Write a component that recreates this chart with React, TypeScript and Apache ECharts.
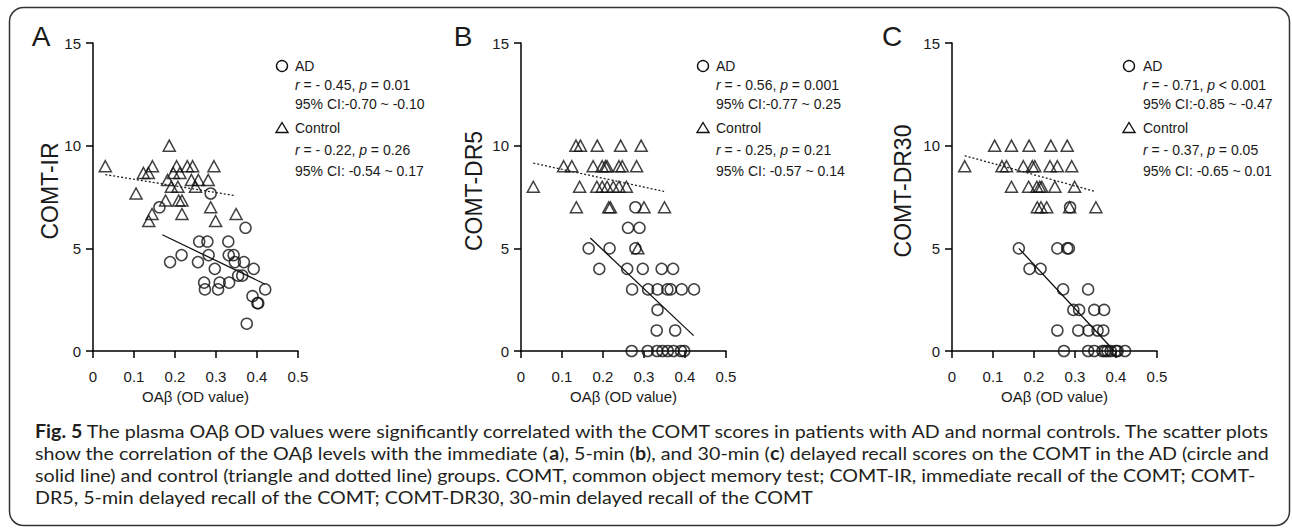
import React, { useEffect, useRef } from "react";
import * as echarts from "echarts";

// ---- Panel labels / axis titles ----
const panelLetters = ["A", "B", "C"];
const yTitles = ["COMT-IR", "COMT-DR5", "COMT-DR30"];
const xTitle = "OAβ (OD value)";

// ---- Panel A: COMT-IR ----
const adA: number[][] = [
  [0.162, 7], [0.287, 7.67], [0.372, 6], [0.259, 5.33], [0.279, 5.33], [0.33, 5.33],
  [0.331, 4.67], [0.343, 4.67], [0.282, 4.67], [0.216, 4.67], [0.188, 4.33], [0.256, 4.33],
  [0.346, 4.33], [0.368, 4.33], [0.297, 4], [0.392, 4], [0.354, 3.67], [0.364, 3.67],
  [0.271, 3.33], [0.309, 3.33], [0.332, 3.33], [0.273, 3], [0.305, 3], [0.42, 3],
  [0.389, 2.67], [0.401, 2.33], [0.403, 2.33], [0.375, 1.33],
];
const ctrlA: number[][] = [
  [0.03, 9], [0.105, 7.67], [0.123, 8.67], [0.135, 8.67], [0.145, 9], [0.144, 6.67],
  [0.136, 6.33], [0.177, 7.33], [0.186, 10], [0.182, 8.33], [0.191, 8], [0.204, 9],
  [0.196, 8.67], [0.212, 8.67], [0.207, 8], [0.209, 7.33], [0.217, 7.33], [0.217, 6.67],
  [0.23, 9], [0.243, 9], [0.24, 8.33], [0.25, 8], [0.257, 8.33], [0.281, 8.33],
  [0.295, 9], [0.287, 7], [0.299, 6.33], [0.349, 6.67],
];
const adLineA = [[0.169, 5.66], [0.42, 3.25]];
const ctrlLineA = [[0.03, 8.59], [0.348, 7.56]];

// ---- Panel B: COMT-DR5 ----
const adB: number[][] = [
  [0.279, 7], [0.261, 6], [0.289, 6], [0.165, 5], [0.216, 5], [0.279, 5],
  [0.191, 4], [0.259, 4], [0.297, 4], [0.343, 4], [0.371, 4],
  [0.271, 3], [0.31, 3], [0.333, 3], [0.357, 3], [0.365, 3], [0.392, 3], [0.422, 3],
  [0.333, 2], [0.331, 1], [0.376, 1],
  [0.27, 0], [0.309, 0], [0.332, 0], [0.345, 0], [0.358, 0], [0.372, 0], [0.39, 0], [0.398, 0],
];
const ctrlB: number[][] = [
  [0.134, 10], [0.145, 10], [0.186, 10], [0.243, 10], [0.293, 10],
  [0.104, 9], [0.124, 9], [0.176, 9], [0.198, 9], [0.206, 9], [0.21, 9], [0.239, 9], [0.247, 9], [0.282, 9],
  [0.03, 8], [0.143, 8], [0.185, 8], [0.198, 8], [0.21, 8], [0.225, 8], [0.239, 8], [0.257, 8],
  [0.135, 7], [0.214, 7], [0.218, 7], [0.3, 7], [0.35, 7],
  [0.285, 5],
];
const adLineB = [[0.169, 5.5], [0.421, 0.75]];
const ctrlLineB = [[0.03, 9.15], [0.349, 7.77]];

// ---- Panel C: COMT-DR30 ----
const adC: number[][] = [
  [0.288, 7], [0.163, 5], [0.257, 5], [0.281, 5], [0.285, 5], [0.189, 4], [0.216, 4],
  [0.271, 3], [0.332, 3], [0.296, 2], [0.31, 2], [0.347, 2], [0.371, 2],
  [0.257, 1], [0.308, 1], [0.333, 1], [0.355, 1], [0.369, 1],
  [0.273, 0], [0.332, 0], [0.347, 0], [0.367, 0], [0.373, 0], [0.379, 0], [0.387, 0], [0.4, 0], [0.404, 0], [0.422, 0],
];
const ctrlC: number[][] = [
  [0.104, 10], [0.145, 10], [0.188, 10], [0.241, 10], [0.281, 10],
  [0.031, 9], [0.122, 9], [0.133, 9], [0.174, 9], [0.196, 9], [0.202, 9], [0.239, 9], [0.257, 9], [0.292, 9],
  [0.145, 8], [0.187, 8], [0.207, 8], [0.214, 8], [0.219, 8], [0.251, 8], [0.299, 8],
  [0.208, 7], [0.217, 7], [0.231, 7], [0.287, 7], [0.351, 7],
];
const adLineC = [[0.163, 5.0], [0.396, 0]];
const ctrlLineC = [[0.031, 9.51], [0.349, 7.77]];

// ---- Legend statistics ----
const adStats = [
  ["{i|r} = - 0.45, {i|p} = 0.01", "95% CI:-0.70 ~ -0.10"],
  ["{i|r} = - 0.56, {i|p} = 0.001", "95% CI:-0.77 ~ 0.25"],
  ["{i|r} = - 0.71, {i|p} < 0.001", "95% CI:-0.85 ~ -0.47"],
];
const ctrlStats = [
  ["{i|r} = - 0.22, {i|p} = 0.26", "95% CI: -0.54 ~ 0.17"],
  ["{i|r} = - 0.25, {i|p} = 0.21", "95% CI: -0.57 ~ 0.14"],
  ["{i|r} = - 0.37, {i|p} = 0.05", "95% CI: -0.65 ~ 0.01"],
];

// ---- Caption ----
const captionLines = [
  "{b|Fig. 5} The plasma OAβ OD values were significantly correlated with the COMT scores in patients with AD and normal controls. The scatter plots",
  "show the correlation of the OAβ levels with the immediate ({b|a}), 5-min ({b|b}), and 30-min ({b|c}) delayed recall scores on the COMT in the AD (circle and",
  "solid line) and control (triangle and dotted line) groups. COMT, common object memory test; COMT-IR, immediate recall of the COMT; COMT-",
  "DR5, 5-min delayed recall of the COMT; COMT-DR30, 30-min delayed recall of the COMT",
];

const panels = [
  { ad: adA, ctrl: ctrlA, adLine: adLineA, ctrlLine: ctrlLineA },
  { ad: adB, ctrl: ctrlB, adLine: adLineB, ctrlLine: ctrlLineB },
  { ad: adC, ctrl: ctrlC, adLine: adLineC, ctrlLine: ctrlLineC },
];

// layout (pixels)
const gridLefts = [93, 521, 952];
const gridWidth = 205;
const gridTop = 43;
const gridHeight = 308;
const letterX = [41, 463, 892];
const yTitleX = [50, 474, 903];
const legendSymX = [282, 703, 1129];
const legendTextX = [295, 716, 1143];

const FONT = "'Liberation Sans', Arial, sans-serif";
const CAP_FONT = "Lato, 'Noto Sans', sans-serif";
const CAP_SIZE = 18;
const CAP_SCALE_X = 1.093;
const INK = "#1a1a1a";

export default function App() {
  const ref = useRef<HTMLDivElement>(null);

  useEffect(() => {
    if (!ref.current) return;
    const chart = echarts.init(ref.current, undefined, { renderer: "svg" });

    const grid: any[] = [];
    const xAxis: any[] = [];
    const yAxis: any[] = [];
    const series: any[] = [];
    const graphic: any[] = [];

    graphic.push({
      type: "rect",
      shape: { x: 9.5, y: 7.5, width: 1280, height: 518, r: 14 },
      style: { fill: "none", stroke: "#333", lineWidth: 1.5 },
      silent: true,
    });

    panels.forEach((p, i) => {
      grid.push({ left: gridLefts[i], top: gridTop, width: gridWidth, height: gridHeight });
      xAxis.push({
        type: "value",
        gridIndex: i,
        min: 0,
        max: 0.5,
        interval: 0.1,
        name: xTitle,
        nameLocation: "middle",
        nameGap: 38,
        nameTextStyle: { fontSize: 15, fontFamily: FONT, color: INK },
        axisLine: { show: true, onZero: false, lineStyle: { color: "#000", width: 1.5 } },
        axisTick: { show: true, length: 7, lineStyle: { color: "#000", width: 1.5 } },
        axisLabel: {
          fontSize: 15,
          fontFamily: FONT,
          color: INK,
          margin: 18,
          formatter: (v: number) => (v === 0 ? "0" : v.toFixed(1)),
        },
        splitLine: { show: false },
      });
      yAxis.push({
        type: "value",
        gridIndex: i,
        min: 0,
        max: 15,
        interval: 5,
        axisLine: { show: true, onZero: false, lineStyle: { color: "#000", width: 1.5 } },
        axisTick: { show: true, length: 7, lineStyle: { color: "#000", width: 1.5 } },
        axisLabel: { fontSize: 15, fontFamily: FONT, color: INK, margin: 12 },
        splitLine: { show: false },
      });

      series.push({
        type: "scatter",
        xAxisIndex: i,
        yAxisIndex: i,
        data: p.ctrl,
        symbol: "triangle",
        symbolSize: [12, 11],
        clip: false,
        itemStyle: { color: "rgba(0,0,0,0)", borderColor: "#111", borderWidth: 1.5 },
        z: 3,
      });
      series.push({
        type: "scatter",
        xAxisIndex: i,
        yAxisIndex: i,
        data: p.ad,
        symbol: "circle",
        symbolSize: 11,
        clip: false,
        itemStyle: { color: "rgba(0,0,0,0)", borderColor: "#111", borderWidth: 1.5 },
        z: 3,
      });
      series.push({
        type: "line",
        xAxisIndex: i,
        yAxisIndex: i,
        data: p.adLine,
        symbol: "none",
        lineStyle: { color: "#111", width: 1.3 },
        z: 4,
      });
      series.push({
        type: "line",
        xAxisIndex: i,
        yAxisIndex: i,
        data: p.ctrlLine,
        symbol: "none",
        lineStyle: { color: "#222", width: 1.3, type: [2, 2] },
        z: 4,
      });

      graphic.push({
        type: "text",
        x: letterX[i],
        y: 36,
        style: {
          text: panelLetters[i],
          fontSize: 28,
          fontFamily: FONT,
          fill: INK,
          align: "center",
          verticalAlign: "middle",
        },
      });
      graphic.push({
        type: "text",
        x: yTitleX[i],
        y: 191,
        rotation: Math.PI / 2,
        style: {
          text: yTitles[i],
          fontSize: 23,
          fontFamily: FONT,
          fill: INK,
          align: "center",
          verticalAlign: "middle",
        },
      });

      const sx = legendSymX[i];
      const tx = legendTextX[i];
      graphic.push({
        type: "circle",
        shape: { cx: sx, cy: 66, r: 5.5 },
        style: { fill: "none", stroke: "#111", lineWidth: 1.4 },
      });
      graphic.push({
        type: "polygon",
        shape: { points: [[sx, 122.5], [sx - 6, 132.5], [sx + 6, 132.5]] },
        style: { fill: "none", stroke: "#111", lineWidth: 1.4 },
      });
      const rich = {
        i: { fontStyle: "italic", fontSize: 14, fontFamily: FONT, fill: INK },
      };
      const textLines: [string, number][] = [
        ["AD", 66],
        [adStats[i][0], 85],
        [adStats[i][1], 104],
        ["Control", 128],
        [ctrlStats[i][0], 150],
        [ctrlStats[i][1], 171],
      ];
      textLines.forEach(([t, y]) => {
        graphic.push({
          type: "text",
          x: tx,
          y,
          style: {
            text: t,
            rich,
            fontSize: 14,
            fontFamily: FONT,
            fill: INK,
            align: "left",
            verticalAlign: "middle",
          },
        });
      });
    });

    const capY = [431, 453, 475, 497];
    captionLines.forEach((t, k) => {
      graphic.push({
        type: "text",
        x: 35,
        y: capY[k],
        scaleX: CAP_SCALE_X,
        style: {
          text: t,
          rich: {
            b: { fontWeight: "bold", fontSize: CAP_SIZE, fontFamily: CAP_FONT, fill: "#231f20" },
          },
          fontSize: CAP_SIZE,
          fontFamily: CAP_FONT,
          fill: "#231f20",
          align: "left",
          verticalAlign: "middle",
        },
      });
    });

    chart.setOption({
      animation: false,
      backgroundColor: "#ffffff",
      grid,
      xAxis,
      yAxis,
      series,
      graphic,
    });

    return () => {
      chart.dispose();
    };
  }, []);

  return (
    <div
      ref={ref}
      style={{ position: "fixed", left: 0, top: 0, width: 1292, height: 532, background: "#fff" }}
    />
  );
}
